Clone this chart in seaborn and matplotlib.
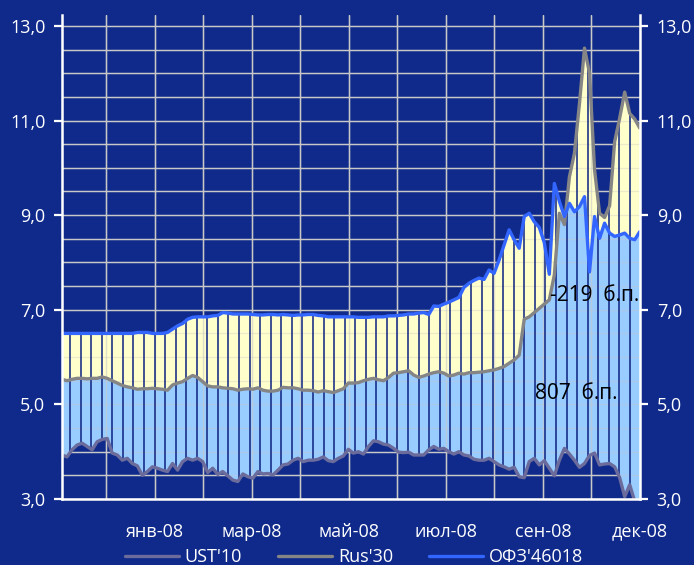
import numpy as np
import pandas as pd
import matplotlib
matplotlib.use("Agg")
import matplotlib.pyplot as plt
import seaborn as sns
from matplotlib.ticker import FixedLocator, FuncFormatter

# yields, roughly one point per trading day group
ust = [3.93, 3.89, 4.04, 4.14, 4.18, 4.11, 4.04, 4.21, 4.26, 4.28, 3.97, 3.93, 3.82, 3.86, 3.75, 3.70, 3.50, 3.58, 3.68, 3.65, 3.61, 3.58, 3.75, 3.61, 3.79,
       3.86, 3.82, 3.86, 3.79, 3.56, 3.65, 3.52, 3.58, 3.49, 3.40, 3.37, 3.53, 3.47, 3.44, 3.58, 3.53, 3.54, 3.51, 3.61, 3.72, 3.74, 3.82, 3.86, 3.79,
       3.82, 3.82, 3.84, 3.89, 3.81, 3.79, 3.86, 3.91, 4.05, 3.97, 4.00, 3.95, 4.11, 4.23, 4.21, 4.16, 4.14, 4.07, 3.99, 3.98, 3.99, 3.93, 3.93, 3.93,
       4.04, 4.11, 4.05, 4.07, 4.00, 3.95, 4.00, 3.93, 3.91, 3.84, 3.82, 3.82, 3.86, 3.79, 3.72, 3.68, 3.63, 3.67, 3.47,
       3.45, 3.79, 3.86, 3.72, 3.81, 3.65, 3.49, 3.82, 4.07, 3.95, 3.82, 3.67, 3.75, 3.92, 3.97, 3.72, 3.74, 3.75, 3.68, 3.45, 3.05, 3.30, 2.95, 2.77]

rus = [5.53, 5.50, 5.53, 5.55, 5.55, 5.54, 5.55, 5.55, 5.58, 5.55, 5.50, 5.45, 5.40, 5.37, 5.35, 5.32, 5.33, 5.33, 5.34, 5.33, 5.32, 5.30, 5.41, 5.45, 5.48,
       5.55, 5.61, 5.57, 5.48, 5.39, 5.37, 5.37, 5.35, 5.34, 5.33, 5.30, 5.32, 5.33, 5.32, 5.35, 5.30, 5.28, 5.28, 5.30, 5.36, 5.35, 5.35, 5.33, 5.30,
       5.30, 5.29, 5.26, 5.29, 5.27, 5.25, 5.29, 5.33, 5.45, 5.45, 5.46, 5.50, 5.53, 5.55, 5.52, 5.50, 5.57, 5.66, 5.67, 5.69, 5.71, 5.62, 5.57, 5.60,
       5.64, 5.67, 5.69, 5.66, 5.60, 5.62, 5.66, 5.64, 5.67, 5.67, 5.68, 5.69, 5.71, 5.73, 5.76, 5.80, 5.87, 5.94, 6.04,
       6.80, 6.85, 6.94, 7.03, 7.12, 7.21, 7.74, 9.04, 8.80, 9.81, 10.31, 11.36, 12.53, 12.00, 9.96, 9.04, 8.95, 9.20, 10.55, 11.05, 11.60, 11.15, 11.03, 10.84]

ofz = [6.50, 6.50, 6.50, 6.50, 6.50, 6.50, 6.50, 6.50, 6.50, 6.50, 6.50, 6.50, 6.50, 6.50, 6.50, 6.52, 6.52, 6.52, 6.50, 6.50, 6.50, 6.52, 6.59, 6.66, 6.71,
       6.80, 6.84, 6.85, 6.85, 6.85, 6.87, 6.88, 6.94, 6.93, 6.91, 6.91, 6.91, 6.91, 6.90, 6.89, 6.89, 6.90, 6.90, 6.89, 6.90, 6.89, 6.88, 6.89, 6.89,
       6.90, 6.90, 6.88, 6.87, 6.85, 6.85, 6.85, 6.85, 6.85, 6.85, 6.84, 6.84, 6.84, 6.85, 6.85, 6.85, 6.87, 6.87, 6.88, 6.89, 6.91, 6.91, 6.93, 6.94,
       6.90, 7.08, 7.07, 7.12, 7.16, 7.21, 7.26, 7.47, 7.56, 7.62, 7.67, 7.64, 7.84, 7.77, 8.05, 8.37, 8.69, 8.48, 8.30,
       8.97, 9.04, 8.86, 8.74, 8.42, 7.75, 9.67, 9.29, 8.97, 9.25, 9.07, 9.18, 9.39, 7.80, 8.97, 8.51, 8.83, 8.62, 8.55, 8.58, 8.62, 8.51, 8.48, 8.65]

series_names = ["UST'10", "Rus'30", "ОФЗ'46018"]
month_labels = ["янв-08", "мар-08", "май-08", "июл-08", "сен-08", "дек-08"]
month_pos = [1, 3, 5, 7, 9, 11]
spread_text = ["-219  б.п.", "807  б.п."]

BG = "#0f2a8a"
LIGHT_BLUE = "#99ccff"
YELLOW = "#ffffcc"
GRID = "#c8c8c8"
colors = ["#6b6b9c", "#858585", "#3366ff"]

# x in "month" units: month gridlines sit on integers
x = np.linspace(-0.906, 10.995, len(ust))
df = pd.DataFrame({"x": x, series_names[0]: ust, series_names[1]: rus, series_names[2]: ofz})

sns.set_style("white")
plt.rcParams["font.family"] = ["Open Sans", "DejaVu Sans"]

fig = plt.figure(figsize=(6.94, 5.65), dpi=100, facecolor=BG)
ax = fig.add_axes([62 / 694, 1 - 499 / 565, 578 / 694, 484 / 565])
ax.set_facecolor(BG)

lo = np.minimum(df[series_names[1]], df[series_names[2]])
hi = np.maximum(df[series_names[1]], df[series_names[2]])
ax.fill_between(df["x"], df[series_names[0]], lo, color=LIGHT_BLUE, lw=0, zorder=1)
ax.fill_between(df["x"], lo, hi, color=YELLOW, lw=0, zorder=1)

# grid under the fills, plus a faint copy showing through them
ax.set_axisbelow(True)
ax.grid(which="both", color=GRID, lw=1.0)
hgrid = np.arange(3.5, 13.01, 0.5)
ax.hlines(hgrid, -0.906, 10.995, color=GRID, lw=1.0, alpha=0.35, zorder=2.4)
ax.vlines(range(0, 11), 3, 13.23, color=GRID, lw=1.0, alpha=0.6, zorder=2.4)

# weekly separators through the filled band
week_x = np.arange(-0.741, 10.9, 0.2176)
ax.vlines(week_x, np.interp(week_x, x, ust), np.interp(week_x, x, hi),
          color="#0d2280", lw=1.1, zorder=2.6)

for name, c in zip(series_names, colors):
    sns.lineplot(data=df, x="x", y=name, ax=ax, color=c, lw=2.4, label=name,
                 legend=False, zorder=3)

ax.set_xlim(-0.906, 10.995)
ax.set_ylim(3, 13.23)
ax.yaxis.set_major_locator(FixedLocator([3, 5, 7, 9, 11, 13]))
ax.yaxis.set_minor_locator(FixedLocator(hgrid))
ax.yaxis.set_major_formatter(FuncFormatter(lambda v, p: f"{v:.1f}".replace(".", ",")))
ax.set_xticks(month_pos)
ax.set_xticklabels(month_labels)
ax.set_xticks(range(0, 11), minor=True)

ax.tick_params(axis="y", which="major", left=True, right=True, labelleft=True, labelright=True,
               direction="out", length=6, width=1.6, colors="white", labelsize=13, pad=6)
ax.tick_params(axis="y", which="minor", length=0)
ax.tick_params(axis="x", which="both", length=0, colors="white", labelsize=13, pad=17)

ax.set_xlabel("")
ax.set_ylabel("")
ax.spines["top"].set_visible(False)
for s in ["left", "right", "bottom"]:
    ax.spines[s].set_color("white")
    ax.spines[s].set_linewidth(1.8)
    ax.spines[s].set_zorder(4)

ax.text(9.14, 7.31, spread_text[0], color="black", fontsize=15, va="center", ha="left", zorder=5)
ax.text(8.83, 5.24, spread_text[1], color="black", fontsize=15, va="center", ha="left", zorder=5)

handles, labels = ax.get_legend_handles_labels()
fig.legend(handles, labels, loc="center", bbox_to_anchor=(354 / 694, 1 - 557 / 565), ncol=3,
           frameon=False, fontsize=13, labelcolor="white", handlelength=3.0,
           columnspacing=2.0, handletextpad=0.3)

fig.savefig("out.png", dpi=100, facecolor=BG)
